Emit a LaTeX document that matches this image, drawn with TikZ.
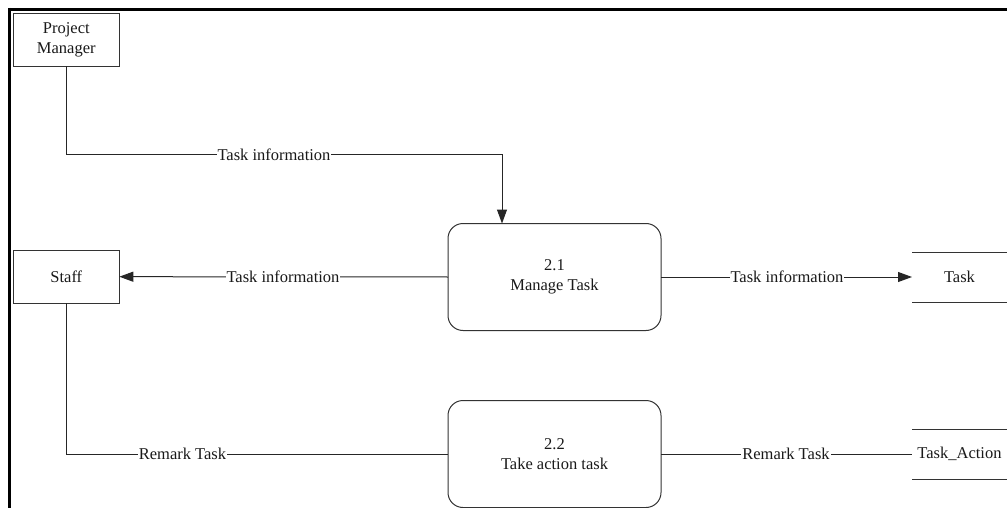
\documentclass[tikz,border=0pt]{standalone}
\usepackage{fontspec}
\setmainfont{Liberation Serif}
\usetikzlibrary{arrows.meta}
\tikzset{
  every node/.style={font=\fontsize{16.5}{20}\selectfont, text=black!90},
  entity/.style={draw=black!80, line width=1pt, rectangle, inner sep=0pt, outer sep=0pt,
                 minimum width=106pt, minimum height=53pt, align=center},
  process/.style={draw=black!80, line width=1pt, rectangle, rounded corners=15pt,
                  inner sep=0pt, outer sep=0pt, minimum width=213pt, minimum height=107pt, align=center},
  datastore/.style={rectangle, inner sep=0pt, outer sep=0pt, minimum width=95pt, minimum height=50pt},
  storeline/.style={draw=black!80, line width=1pt},
  flow/.style={draw=black!85, line width=1pt},
  arrowflow/.style={flow, -{Triangle[length=14pt,width=10pt]}},
  lbl/.style={fill=white, inner sep=1pt},
  frameline/.style={draw=black, line width=3pt}
}
\begin{document}
\begin{tikzpicture}[x=1pt, y=-1pt]
\useasboundingbox (0,0) rectangle (1007,508);

% frame along top and left edges
\draw[frameline] (8,9.5) -- (1007,9.5);
\draw[frameline] (9.5,8) -- (9.5,508);

% external entities
\node[entity] (pm) at (66.3,40) {Project\\Manager};
\node[entity] (staff) at (66.3,276.7) {Staff};

% processes
\node[process] (m1) at (554.5,277) {2.1\\Manage Task};
\node[process] (m2) at (554.5,454) {2.2\\Take action task};

% data stores
\node[datastore] (ts) at (959.5,277) {Task};
\node[datastore] (ta) at (959.5,454) {Task\_Action};
\draw[storeline] (ts.north west) -- (ts.north east);
\draw[storeline] (ts.south west) -- (ts.south east);
\draw[storeline] (ta.north west) -- (ta.north east);
\draw[storeline] (ta.south west) -- (ta.south east);

% data flows
\coordinate (k1) at (502,154.5);
\draw[arrowflow] (pm.south) |- (k1) -- (k1 |- m1.north);
\node[lbl] (l1) at (274,154.5) {Task information};

\draw[arrowflow] (m1.west) -- (staff.east);
\node[lbl] (l2) at (283,277) {Task information};

\draw[arrowflow] (m1.east) -- (ts.west);
\node[lbl] (l3) at (787,277) {Task information};

\draw[flow] (staff.south) |- (m2.west);
\node[lbl] (l4) at (182.5,454) {Remark Task};

\draw[flow] (m2.east) -- (ta.west);
\node[lbl] (l5) at (786,454) {Remark Task};
\end{tikzpicture}
\end{document}
